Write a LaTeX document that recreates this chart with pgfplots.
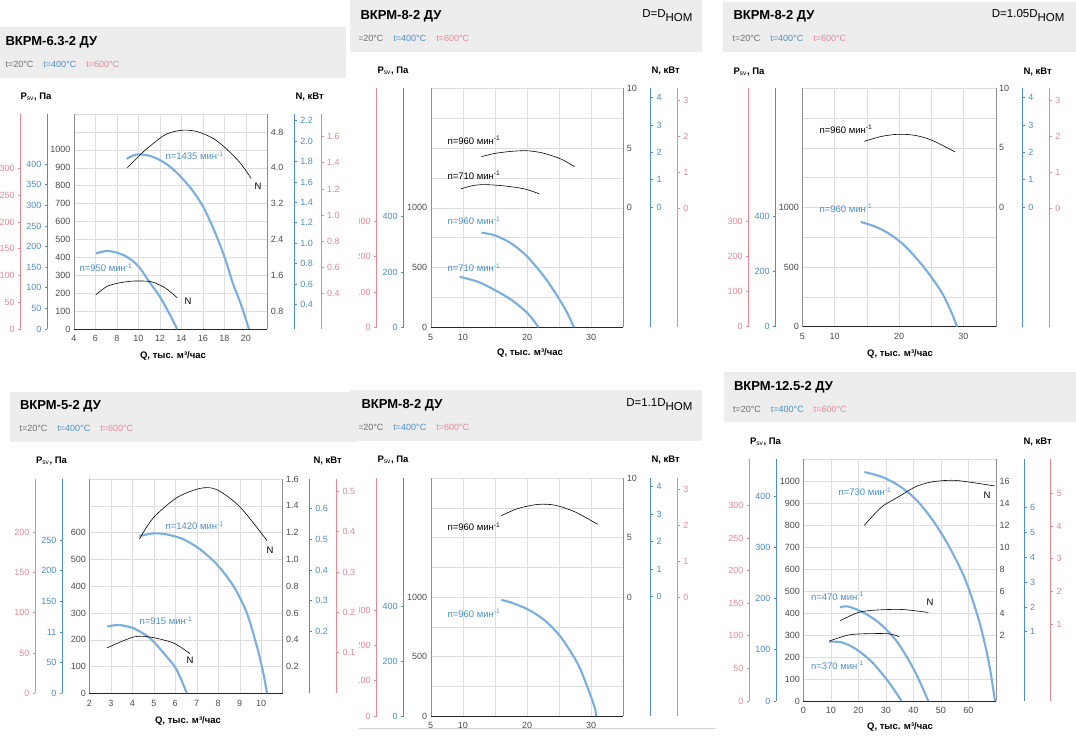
\documentclass[border=0pt]{standalone}
\usepackage{pgfplots}
\pgfplotsset{compat=1.18}
\usepackage{fontspec}
\setmainfont{Liberation Sans}

\definecolor{c4}{HTML}{4D8FC3}
\definecolor{c6}{HTML}{E38A97}
\definecolor{cb}{HTML}{78AFE0}
\definecolor{boxc}{HTML}{EDEDED}
\definecolor{gtx}{HTML}{6E6E6E}

\newcommand\tl{\fontsize{9}{10}\selectfont}
\newcommand\lb{\fontsize{9.5}{11}\selectfont}
\newcommand\ttl{\fontsize{13}{15}\selectfont\bfseries}
\newcommand\sml{\fontsize{9}{10}\selectfont}
\newcommand\dfn{\fontsize{11.5}{13}\selectfont}
\newcommand\temps{{\color{gtx}t=20°C}\hspace{10pt}{\color{c4}t=400°C}\hspace{10pt}{\color{c6}t=600°C}}
\newcommand\psv{\textbf{P}\textsubscript{sv}\textbf{, Па}}
\newcommand\nkw{\textbf{N, кВт}}
\newcommand\qlab{\textbf{Q, тыс. м³/час}}
\newcommand\mn{мин\textsuperscript{-1}}
\newcommand\dnom[1]{D=#1D\raisebox{-4pt}{НОМ}}

\pgfplotsset{
  base/.style={scale only axis, anchor=south west,
    /pgf/number format/assume math mode=true,
    /pgf/number format/set thousands separator={},
    ticklabel style={font=\tl}},
  mainax/.style={base, axis x line*=bottom, axis y line*=left,
    x axis line style={draw=black!85,-}, y axis line style={draw=black!45,-},
    grid=both, major grid style={draw=black!13}, minor grid style={draw=black!13},
    major tick length=0pt, minor tick length=0pt,
    ticklabel style={text=black!70}, xticklabel style={yshift=-3pt}, clip=false},
  nax/.style={base, axis x line=none, axis y line*=right, xtick=\empty,
    y axis line style={draw=black!45,-}, major tick length=0pt,
    ticklabel style={text=black!70}, clip=false},
  cax/.style={base, width=1pt, xmin=0, xmax=1, axis x line=none, xtick=\empty,
    tick align=outside, major tick length=2.5pt},
  caxl/.style={cax, axis y line*=left, anchor=south west},
  caxr/.style={cax, axis y line*=right, anchor=south east},
  blu/.style={y axis line style={draw=c4, line width=1pt, -},
    every tick/.style={draw=c4, line width=0.8pt}, ticklabel style={text=c4}},
  pnk/.style={y axis line style={draw=c6, line width=1pt, -},
    every tick/.style={draw=c6, line width=0.8pt}, ticklabel style={text=c6}},
  f1/.style={yticklabel style={/pgf/number format/.cd, fixed, fixed zerofill, precision=1}},
  curve/.style={cb, line width=2.1pt, smooth, no marks},
  ncurve/.style={black, line width=0.6pt, smooth, no marks},
}

\begin{document}
\begin{tikzpicture}
\path[use as bounding box, fill=white] (0,0) rectangle (1076pt,738pt);

% ---------- panel 1: ВКРМ-6.3-2 ДУ
\begin{scope}
\clip (0pt,{738pt-375pt}) rectangle (350pt,738pt);
\fill[boxc] (0pt,{738pt-78pt}) rectangle (346pt,{738pt-27pt});
\begin{axis}[mainax, at={(74pt,{738pt-329pt})}, width=193.3pt, height=215pt,
  xmin=4, xmax=22, ymin=0, ymax=1200, xtick={4,6,...,20}, minor xtick={22},
  ytick={0,100,...,1000}, minor ytick={1100,1200}]
\addplot[curve] coordinates {(8.9,950)(9.5,968)(10,975)(11,967)(12,943)(13,903)(14,846)(15,776)(16,685)(17,558)(18,405)(18.8,254)(19.5,145)(20.3,0)};
\addplot[curve] coordinates {(6.05,422)(7,435)(8,426)(9,400)(10,350)(11.07,258)(12,180)(13,72)(13.6,0)};
\end{axis}
\begin{axis}[nax, f1, at={(74pt,{738pt-329pt})}, width=193.3pt, height=215pt,
  xmin=4, xmax=22, ymin=0.4, ymax=5.2, ytick={0.8,1.6,2.4,3.2,4.0,4.8}]
\addplot[ncurve] coordinates {(8.96,4.00)(10.0,4.25)(10.76,4.42)(12.3,4.71)(13.2,4.80)(14.2,4.84)(15.0,4.83)(15.7,4.79)(17.0,4.65)(18.2,4.42)(19.5,4.10)(20.5,3.76)};
\addplot[ncurve] coordinates {(6.02,1.16)(7.0,1.34)(8.0,1.42)(9.5,1.47)(11.07,1.46)(12.0,1.38)(12.6,1.30)(13.6,1.10)};
\end{axis}
\begin{axis}[caxl, blu, at={(47.3pt,{738pt-329pt})}, height=215pt, ymin=0, ymax=522, ytick={0,50,...,400}]
\end{axis}
\begin{axis}[caxl, pnk, at={(20.7pt,{738pt-329pt})}, height=215pt, ymin=0, ymax=402.6, ytick={0,50,...,300}]
\end{axis}
\begin{axis}[caxr, blu, f1, at={(294.3pt,{738pt-329pt})}, height=215pt, ymin=0.158, ymax=2.266,
  ytick={0.4,0.6,0.8,1.0,1.2,1.4,1.6,1.8,2.0,2.2}]
\end{axis}
\begin{axis}[caxr, pnk, f1, at={(321pt,{738pt-329pt})}, height=215pt, ymin=0.125, ymax=1.775,
  ytick={0.4,0.6,0.8,1.0,1.2,1.4,1.6}]
\end{axis}
\begin{scope}[x=1pt,y=-1pt,shift={(0pt,738pt)}]
  \node[anchor=west,font=\ttl] at (2,42) {ВКРМ-6.3-2 ДУ};
  \node[anchor=west,font=\sml] at (2,64.3) {\temps};
  \node[anchor=west,font=\lb] at (17,97) {\psv};
  \node[anchor=west,font=\lb] at (292,97) {\nkw};
  \node[font=\lb] at (173,356) {\qlab};
  \node[anchor=west,font=\lb,text=c4] at (162,155.7) {n=1435 \mn};
  \node[anchor=west,font=\lb,text=c4] at (76,267.7) {n=950 \mn};
  \node[font=\lb] at (258,186) {N};
  \node[font=\lb] at (188,301.7) {N};
\end{scope}
\end{scope}

% ---------- panel 2: ВКРМ-8-2 ДУ, D=Dном
\begin{scope}
\fill[white] (350pt,{738pt-375pt}) rectangle (715pt,738pt);
\fill[boxc] (350pt,{738pt-51.7pt}) rectangle (702pt,738pt);
\clip (359pt,{738pt-375pt}) rectangle (715pt,738pt);
\begin{axis}[mainax, at={(430.7pt,{738pt-327.3pt})}, width=192.6pt, height=239pt,
  xmin=5, xmax=35, ymin=0, ymax=2000, xtick={5,10,20,30}, minor xtick={15,25,35},
  ytick={0,500,1000}, minor ytick={250,750,1250,1500,1750,2000}]
\addplot[curve] coordinates {(12.9,792)(15,769)(17.6,700)(20.1,588)(22.7,422)(24.8,255)(26.3,117)(27.3,0)};
\addplot[curve] coordinates {(9.54,422)(12.4,380)(15,311)(17.6,228)(20.1,117)(21.8,0)};
\end{axis}
\begin{axis}[nax, at={(430.7pt,{738pt-327.3pt})}, width=192.6pt, height=239pt,
  xmin=5, xmax=35, ymin=-10, ymax=10, ytick={0,5,10}]
\addplot[ncurve] coordinates {(12.9,4.28)(15,4.55)(17.5,4.72)(19.6,4.78)(21,4.72)(22.7,4.55)(25.3,4.08)(27.4,3.44)};
\addplot[ncurve] coordinates {(9.7,1.58)(11.5,1.85)(13.4,1.94)(16.5,1.83)(19.6,1.58)(21.9,1.17)};
\end{axis}
\begin{axis}[caxl, blu, at={(403.7pt,{738pt-327.3pt})}, height=239pt, ymin=0, ymax=864, ytick={0,200,400}]
\end{axis}
\begin{axis}[caxl, pnk, at={(376.7pt,{738pt-327.3pt})}, height=239pt, ymin=0, ymax=677, ytick={0,100,200,300}]
\end{axis}
\begin{axis}[caxr, blu, at={(650.7pt,{738pt-327.3pt})}, height=239pt, ymin=-4.38, ymax=4.34, ytick={0,1,2,3,4}]
\end{axis}
\begin{axis}[caxr, pnk, at={(677.3pt,{738pt-327.3pt})}, height=239pt, ymin=-3.32, ymax=3.35, ytick={0,1,2,3}]
\end{axis}
\begin{scope}[x=1pt,y=-1pt,shift={(0pt,738pt)}]
  \node[anchor=west,font=\ttl] at (357,16) {ВКРМ-8-2 ДУ};
  \node[anchor=east,font=\dfn] at (696,16) {\dnom{}};
  \node[anchor=west,font=\sml] at (352,38.3) {\temps};
  \node[anchor=west,font=\lb] at (374,70.7) {\psv};
  \node[anchor=west,font=\lb] at (648,70.7) {\nkw};
  \node[font=\lb] at (530,353.3) {\qlab};
  \node[anchor=west,font=\lb] at (444,140) {n=960 \mn};
  \node[anchor=west,font=\lb] at (444,175) {n=710 \mn};
  \node[anchor=west,font=\lb,text=c4] at (444,220.7) {n=960 \mn};
  \node[anchor=west,font=\lb,text=c4] at (444,267.7) {n=710 \mn};
\end{scope}
\end{scope}

% ---------- panel 3: ВКРМ-8-2 ДУ, D=1.05Dном
\begin{scope}
\fill[white] (715pt,{738pt-365pt}) rectangle (1076pt,738pt);
\clip (715pt,{738pt-365pt}) rectangle (1076pt,738pt);
\fill[boxc] (723pt,{738pt-51.7pt}) rectangle (1076pt,{738pt-1.7pt});
\begin{axis}[mainax, at={(802.3pt,{738pt-326.7pt})}, width=193.4pt, height=238.4pt,
  xmin=5, xmax=35, ymin=0, ymax=2000, xtick={5,10,20,30}, minor xtick={15,25,35},
  ytick={0,500,1000}, minor ytick={250,750,1250,1500,1750,2000}]
\addplot[curve] coordinates {(14.08,879)(16.3,840)(18.4,782)(20.5,698)(22.5,586)(24.6,447)(26.7,280)(28.2,112)(29.0,0)};
\end{axis}
\begin{axis}[nax, at={(802.3pt,{738pt-326.7pt})}, width=193.4pt, height=238.4pt,
  xmin=5, xmax=35, ymin=-10, ymax=10, ytick={0,5,10}]
\addplot[ncurve] coordinates {(14.6,5.55)(17.35,5.97)(19.9,6.14)(22.5,6.05)(25.1,5.64)(28.7,4.66)};
\end{axis}
\begin{axis}[caxl, blu, at={(775.7pt,{738pt-326.7pt})}, height=238.4pt, ymin=0, ymax=867, ytick={0,200,400}]
\end{axis}
\begin{axis}[caxl, pnk, at={(748.7pt,{738pt-326.7pt})}, height=238.4pt, ymin=0, ymax=681, ytick={0,100,200,300}]
\end{axis}
\begin{axis}[caxr, blu, at={(1022.3pt,{738pt-326.7pt})}, height=238.4pt, ymin=-4.38, ymax=4.34, ytick={0,1,2,3,4}]
\end{axis}
\begin{axis}[caxr, pnk, at={(1049.3pt,{738pt-326.7pt})}, height=238.4pt, ymin=-3.32, ymax=3.35, ytick={0,1,2,3}]
\end{axis}
\begin{scope}[x=1pt,y=-1pt,shift={(0pt,738pt)}]
  \node[anchor=west,font=\ttl] at (730,16) {ВКРМ-8-2 ДУ};
  \node[anchor=east,font=\dfn] at (1068,16) {\dnom{1.05}};
  \node[anchor=west,font=\sml] at (729,38.3) {\temps};
  \node[anchor=west,font=\lb] at (730,71.7) {\psv};
  \node[anchor=west,font=\lb] at (1020,71.7) {\nkw};
  \node[font=\lb] at (900,354) {\qlab};
  \node[anchor=west,font=\lb] at (816,129) {n=960 \mn};
  \node[anchor=west,font=\lb,text=c4] at (816,208.3) {n=960 \mn};
\end{scope}
\end{scope}

% ---------- panel 4: ВКРМ-5-2 ДУ
\begin{scope}
\fill[white] (0pt,0pt) rectangle (357pt,{738pt-375pt});
\clip (0pt,0pt) rectangle (357pt,{738pt-375pt});
\fill[boxc] (10pt,{738pt-441.7pt}) rectangle (360pt,{738pt-391.7pt});
\begin{axis}[mainax, at={(89.3pt,{738pt-693.3pt})}, width=193.4pt, height=214.3pt,
  xmin=2, xmax=11, ymin=0, ymax=800, xtick={2,3,...,10}, minor xtick={11},
  ytick={0,100,...,600}, minor ytick={700,800}]
\addplot[curve] coordinates {(4.33,587)(4.98,597)(5.61,593)(6.38,575)(7.16,537)(7.94,481)(8.71,400)(9.33,300)(9.8,175)(10.1,75)(10.27,0)};
\addplot[curve] coordinates {(2.84,249)(3.35,255)(4.05,243)(4.83,205)(5.6,137)(6.07,87)(6.54,0)};
\end{axis}
\begin{axis}[nax, f1, at={(89.3pt,{738pt-693.3pt})}, width=193.4pt, height=214.3pt,
  xmin=2, xmax=11, ymin=0, ymax=1.6, ytick={0.2,0.4,0.6,0.8,1.0,1.2,1.4,1.6}]
\addplot[ncurve] coordinates {(4.33,1.15)(4.98,1.31)(6.07,1.46)(7.16,1.53)(7.94,1.52)(9.02,1.39)(10.27,1.14)};
\addplot[ncurve] coordinates {(2.84,0.34)(4.05,0.42)(4.83,0.42)(5.92,0.375)(6.69,0.295)};
\end{axis}
\begin{axis}[caxl, blu, at={(62.3pt,{738pt-693.3pt})}, height=214.3pt, ymin=0, ymax=350,
  ytick={0,50,100,150,200,250}, yticklabels={0,50,11,150,200,250}]
\end{axis}
\begin{axis}[caxl, pnk, at={(35.3pt,{738pt-693.3pt})}, height=214.3pt, ymin=0, ymax=266, ytick={0,50,...,200}]
\end{axis}
\begin{axis}[caxr, blu, f1, at={(309.3pt,{738pt-693.3pt})}, height=214.3pt, ymin=0, ymax=0.695,
  ytick={0.2,0.3,0.4,0.5,0.6}]
\end{axis}
\begin{axis}[caxr, pnk, f1, at={(336.7pt,{738pt-693.3pt})}, height=214.3pt, ymin=0, ymax=0.53,
  ytick={0.1,0.2,0.3,0.4,0.5}]
\end{axis}
\begin{scope}[x=1pt,y=-1pt,shift={(0pt,738pt)}]
  \node[anchor=west,font=\ttl] at (16.5,406) {ВКРМ-5-2 ДУ};
  \node[anchor=west,font=\sml] at (16,428.7) {\temps};
  \node[anchor=west,font=\lb] at (32.5,461) {\psv};
  \node[anchor=west,font=\lb] at (310,461) {\nkw};
  \node[font=\lb] at (188,720.7) {\qlab};
  \node[anchor=west,font=\lb,text=c4] at (162,525.7) {n=1420 \mn};
  \node[anchor=west,font=\lb,text=c4] at (136,620.7) {n=915 \mn};
  \node[font=\lb] at (270,550.7) {N};
  \node[font=\lb] at (190,660.7) {N};
\end{scope}
\end{scope}

% ---------- panel 5: ВКРМ-8-2 ДУ, D=1.1Dном
\begin{scope}
\fill[white] (357pt,0pt) rectangle (715pt,{738pt-441pt});
\fill[boxc] (350pt,{738pt-440.7pt}) rectangle (701.7pt,{738pt-390pt});
\clip (359pt,{738pt-731pt}) rectangle (715pt,{738pt-375pt});
\begin{axis}[mainax, at={(430.7pt,{738pt-716pt})}, width=192.6pt, height=238pt,
  xmin=5, xmax=35, ymin=0, ymax=2000, xtick={5,10,20,30}, minor xtick={15,25,35},
  ytick={0,500,1000}, minor ytick={250,750,1250,1500,1750,2000}]
\addplot[curve] coordinates {(16,975)(17.56,953)(20.1,897)(22.7,806)(25.3,661)(27.9,439)(29.4,244)(30.5,78)(30.8,0)};
\end{axis}
\begin{axis}[nax, at={(430.7pt,{738pt-716pt})}, width=192.6pt, height=238pt,
  xmin=5, xmax=35, ymin=-10, ymax=10, ytick={0,5,10}]
\addplot[ncurve] coordinates {(16,6.83)(18.6,7.44)(21.7,7.78)(24.3,7.72)(27.4,7.17)(31.0,6.11)};
\end{axis}
\begin{axis}[caxl, blu, at={(403.7pt,{738pt-716pt})}, height=238pt, ymin=0, ymax=865, ytick={0,200,400}]
\end{axis}
\begin{axis}[caxl, pnk, at={(376.7pt,{738pt-716pt})}, height=238pt, ymin=0, ymax=673.6, ytick={0,100,200,300}]
\end{axis}
\begin{axis}[caxr, blu, at={(650.7pt,{738pt-716pt})}, height=238pt, ymin=-4.34, ymax=4.32, ytick={0,1,2,3,4}]
\end{axis}
\begin{axis}[caxr, pnk, at={(677.3pt,{738pt-716pt})}, height=238pt, ymin=-3.32, ymax=3.33, ytick={0,1,2,3}]
\end{axis}
\begin{scope}[x=1pt,y=-1pt,shift={(0pt,738pt)}]
  \draw[black!18, line width=0.8pt] (359,728.3) -- (715,728.3);
  \node[anchor=west,font=\ttl] at (358,405) {ВКРМ-8-2 ДУ};
  \node[anchor=east,font=\dfn] at (696,405) {\dnom{1.1}};
  \node[anchor=west,font=\sml] at (352,427.7) {\temps};
  \node[anchor=west,font=\lb] at (374,460) {\psv};
  \node[anchor=west,font=\lb] at (648,460) {\nkw};
  \node[anchor=west,font=\lb] at (444,526.7) {n=960 \mn};
  \node[anchor=west,font=\lb,text=c4] at (444,613.3) {n=960 \mn};
\end{scope}
\end{scope}

% ---------- panel 6: ВКРМ-12.5-2 ДУ
\begin{scope}
\fill[white] (715pt,0pt) rectangle (1076pt,{738pt-365pt});
\clip (715pt,0pt) rectangle (1076pt,{738pt-365pt});
\fill[boxc] (724pt,{738pt-422.3pt}) rectangle (1076pt,{738pt-371.7pt});
\begin{axis}[mainax, at={(803.3pt,{738pt-701pt})}, width=192.7pt, height=241.7pt,
  xmin=0, xmax=70, ymin=0, ymax=1100, xtick={0,10,...,60}, minor xtick={70},
  ytick={0,100,...,1000}, minor ytick={1100}]
\addplot[curve] coordinates {(22.2,1042)(28.5,1020)(34.5,982)(40.6,921)(46.6,830)(52.7,709)(58.7,557)(63.6,376)(66.6,224)(68.4,103)(69.6,0)};
\addplot[curve] coordinates {(13.3,426)(16.3,430)(22.4,399)(28.5,345)(34.5,262)(40.6,133)(45.4,0)};
\addplot[curve] coordinates {(9.4,270)(13.9,267)(18.8,239)(24.8,179)(30.9,88)(35.7,0)};
\end{axis}
\begin{axis}[nax, at={(803.3pt,{738pt-701pt})}, width=192.7pt, height=241.7pt,
  xmin=0, xmax=70, ymin=-4, ymax=18, ytick={2,4,...,16}]
\addplot[ncurve] coordinates {(22.2,12.0)(28.5,13.67)(34.5,14.57)(40.6,15.48)(46.6,15.94)(53.9,16.09)(59.9,15.94)(69.6,15.57)};
\addplot[ncurve] coordinates {(13.3,3.3)(20,4.06)(26.1,4.27)(35.7,4.33)(45.4,4.06)};
\addplot[ncurve] coordinates {(9.4,1.45)(16.3,2.0)(22.4,2.12)(30.9,2.12)(34.9,1.85)};
\end{axis}
\begin{axis}[caxl, blu, at={(776.3pt,{738pt-701pt})}, height=241.7pt, ymin=0, ymax=473, ytick={0,100,...,400}]
\end{axis}
\begin{axis}[caxl, pnk, at={(749.3pt,{738pt-701pt})}, height=241.7pt, ymin=0, ymax=370.7, ytick={0,50,...,300}]
\end{axis}
\begin{axis}[caxr, blu, at={(1024pt,{738pt-701pt})}, height=241.7pt, ymin=-1.79, ymax=7.95, ytick={1,2,...,6}]
\end{axis}
\begin{axis}[caxr, pnk, at={(1050.7pt,{738pt-701pt})}, height=241.7pt, ymin=-1.34, ymax=6.04, ytick={1,2,...,5}]
\end{axis}
\begin{scope}[x=1pt,y=-1pt,shift={(0pt,738pt)}]
  \node[anchor=west,font=\ttl] at (730.5,387.7) {ВКРМ-12.5-2 ДУ};
  \node[anchor=west,font=\sml] at (729.5,409.3) {\temps};
  \node[anchor=west,font=\lb] at (746.5,441.7) {\psv};
  \node[anchor=west,font=\lb] at (1020,441.7) {\nkw};
  \node[font=\lb] at (900,726.7) {\qlab};
  \node[anchor=west,font=\lb,text=c4] at (835,491.7) {n=730 \mn};
  \node[anchor=west,font=\lb,text=c4] at (807.5,596) {n=470 \mn};
  \node[anchor=west,font=\lb,text=c4] at (807.5,665) {n=370 \mn};
  \node[font=\lb] at (987,495) {N};
  \node[font=\lb] at (930,602.7) {N};
\end{scope}
\end{scope}
\end{tikzpicture}
\end{document}
